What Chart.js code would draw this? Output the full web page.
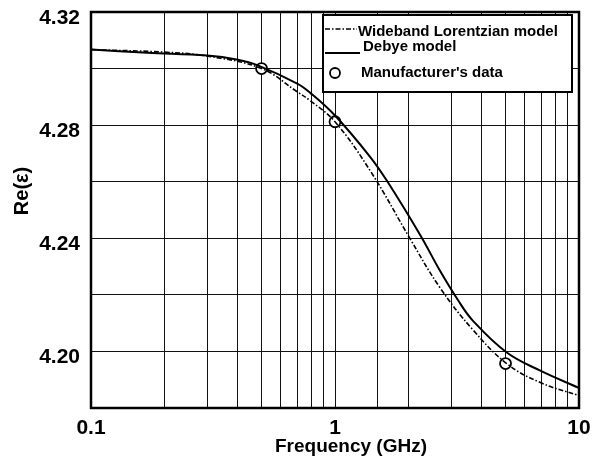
<!DOCTYPE html>
<html>
<head>
<meta charset="utf-8">
<script src="https://cdn.jsdelivr.net/npm/chart.js@4.4.1/dist/chart.umd.min.js"></script>
<style>
  html, body { margin: 0; padding: 0; background: #fff; }
  #wrap { width: 592px; height: 457px; }
</style>
</head>
<body>
<div id="wrap"><canvas id="chart"></canvas></div>
<script>
const debyeFreqs = [0.1, 0.17, 0.3, 0.4, 0.48, 0.7, 0.79, 1.0, 1.39, 1.63, 2.24, 2.69, 3.2, 3.67, 5.06, 6.94, 10];
const debyeValues = [4.3067, 4.3056, 4.3046, 4.3031, 4.3012, 4.2947, 4.2915, 4.2834, 4.2689, 4.2604, 4.2410, 4.2286, 4.2180, 4.2109, 4.1996, 4.1932, 4.1871];
const lorentzFreqs = [0.1, 0.2, 0.3, 0.5, 0.7, 0.79, 1.0, 1.41, 2.02, 2.69, 3.67, 5.06, 6.94, 10];
const lorentzValues = [4.3067, 4.3058, 4.3044, 4.3000, 4.2918, 4.2887, 4.2812, 4.2632, 4.2402, 4.2226, 4.2077, 4.1957, 4.1890, 4.1844];
const mfrFreqs = [0.5, 1, 5];
const mfrValues = [4.3000, 4.2812, 4.1957];
const xLabels = [0.1, 1, 10];
const yLabels = [4.20, 4.24, 4.28, 4.32];

const FONT = 'Arial, "Liberation Sans", sans-serif';

const toPoints = (xs, ys) => xs.map((x, i) => ({ x, y: ys[i] }));

// heavy frame, axis titles and the boxed legend in the top right
const framePlugin = {
  id: 'frame',
  afterDraw(chart) {
    const { ctx, chartArea: a } = chart;
    ctx.save();
    ctx.strokeStyle = '#000';
    ctx.lineWidth = 2.5;
    ctx.strokeRect(a.left, a.top, a.right - a.left, a.bottom - a.top);

    // axis titles
    ctx.fillStyle = '#000';
    ctx.textAlign = 'center';
    ctx.textBaseline = 'middle';
    ctx.font = 'bold 19px ' + FONT;
    ctx.fillText('Frequency (GHz)', a.left + 260, a.bottom + 39);
    ctx.save();
    ctx.translate(22, a.top + 179);
    ctx.rotate(-Math.PI / 2);
    ctx.font = 'bold 20px ' + FONT;
    ctx.fillText('Re(ε)', 0, 0);
    ctx.restore();
    ctx.textAlign = 'left';

    const bx = a.right - 256, by = a.top + 3, bw = 249, bh = 77;
    ctx.fillStyle = '#fff';
    ctx.fillRect(bx, by, bw, bh);
    ctx.lineWidth = 2;
    ctx.strokeRect(bx, by, bw, bh);

    const ds = chart.data.datasets;
    ctx.font = 'bold 15px ' + FONT;
    ctx.fillStyle = '#000';

    // Lorentzian
    ctx.setLineDash(ds[0].borderDash);
    ctx.lineWidth = ds[0].borderWidth;
    ctx.beginPath();
    ctx.moveTo(bx + 2, by + 14);
    ctx.lineTo(bx + 34, by + 14);
    ctx.stroke();
    ctx.fillText(ds[0].label, bx + 35, by + 17);

    // Debye
    ctx.setLineDash([]);
    ctx.lineWidth = ds[1].borderWidth;
    ctx.beginPath();
    ctx.moveTo(bx + 2, by + 38);
    ctx.lineTo(bx + 37, by + 38);
    ctx.stroke();
    ctx.fillText(ds[1].label, bx + 40, by + 32);

    // manufacturer
    ctx.lineWidth = ds[2].pointBorderWidth;
    ctx.beginPath();
    ctx.arc(bx + 12, by + 58, 5, 0, Math.PI * 2);
    ctx.fillStyle = '#fff';
    ctx.fill();
    ctx.stroke();
    ctx.fillStyle = '#000';
    ctx.fillText(ds[2].label, bx + 38, by + 58);
    ctx.restore();
  }
};

new Chart(document.getElementById('chart'), {
  type: 'scatter',
  data: {
    datasets: [
      {
        label: 'Wideband Lorentzian model',
        data: toPoints(lorentzFreqs, lorentzValues),
        showLine: true,
        borderColor: '#000',
        borderWidth: 1.6,
        borderDash: [5, 2, 1.5, 2],
        pointRadius: 0,
        tension: 0.4
      },
      {
        label: 'Debye model',
        data: toPoints(debyeFreqs, debyeValues),
        showLine: true,
        borderColor: '#000',
        borderWidth: 2,
        pointRadius: 0,
        tension: 0.4
      },
      {
        label: "Manufacturer's data",
        data: toPoints(mfrFreqs, mfrValues),
        showLine: false,
        pointRadius: 5.5,
        pointBackgroundColor: '#fff',
        pointBorderColor: '#000',
        borderColor: '#000',
        pointBorderWidth: 1.8
      }
    ]
  },
  options: {
    responsive: true,
    maintainAspectRatio: false,
    animation: false,
    layout: { padding: { left: 0, right: 13, top: 12, bottom: 0 } },
    plugins: {
      legend: { display: false },
      tooltip: { enabled: false }
    },
    scales: {
      x: {
        type: 'logarithmic',
        min: 0.1,
        max: 10,
        afterFit: s => { s.height = 49; s.paddingLeft = 0; s.paddingRight = 0; },
        border: { display: false },
        grid: { color: '#111', lineWidth: 1, drawTicks: false },
        ticks: {
          autoSkip: false,
          maxRotation: 0,
          padding: 8,
          color: '#000',
          font: { family: FONT, size: 21, weight: 'bold' },
          callback: v => xLabels.some(l => Math.abs(l - v) < 1e-9) ? String(v) : ''
        }
      },
      y: {
        min: 4.18,
        max: 4.32,
        afterFit: s => { s.width = 91; s.paddingTop = 0; s.paddingBottom = 0; },
        border: { display: false },
        grid: { color: '#111', lineWidth: 1, drawTicks: false },
        ticks: {
          stepSize: 0.02,
          padding: 11,
          labelOffset: 6,
          color: '#000',
          font: { family: FONT, size: 21, weight: 'bold' },
          callback: v => yLabels.some(l => Math.abs(l - v) < 1e-6) ? v.toFixed(2) : ''
        }
      }
    }
  },
  plugins: [framePlugin]
});
</script>
</body>
</html>
